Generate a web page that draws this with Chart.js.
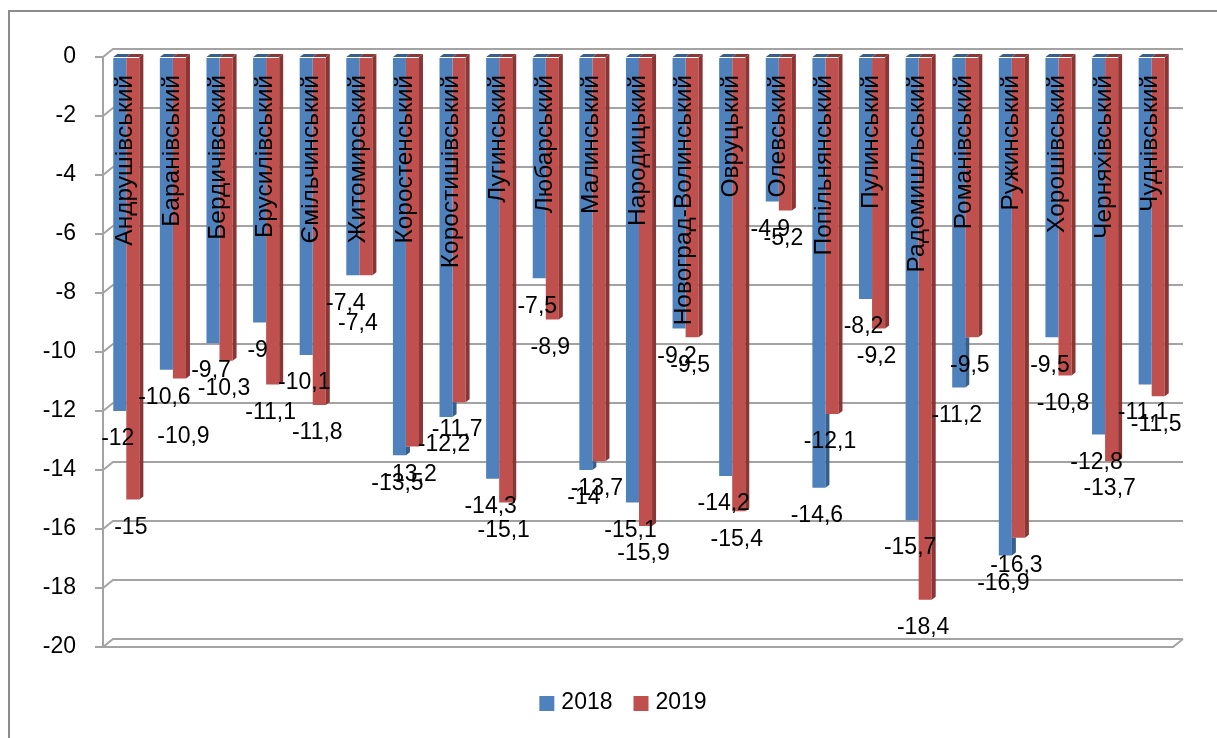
<!DOCTYPE html>
<html>
<head>
<meta charset="utf-8">
<script src="https://cdn.jsdelivr.net/npm/chart.js@4"></script>
<style>
  html, body { margin: 0; padding: 0; background: #fff; }
  #wrap { width: 1217px; height: 738px; }
</style>
</head>
<body>
<div id="wrap"><canvas id="rateChart" width="1217" height="738"></canvas></div>
<script>
const districts = [
  "Андрушівський", "Баранівський", "Бердичівський", "Брусилівський",
  "Ємільчинський", "Житомирський", "Коростенський", "Коростишівський",
  "Лугинський", "Любарський", "Малинський", "Народицький",
  "Новоград-Волинський", "Овруцький", "Олевський", "Попільнянський",
  "Пулинський", "Радомишльський", "Романівський", "Ружинський",
  "Хорошівський", "Черняхівський", "Чуднівський"
];
const values2018 = [-12, -10.6, -9.7, -9, -10.1, -7.4, -13.5, -12.2, -14.3, -7.5, -14, -15.1,
  -9.2, -14.2, -4.9, -14.6, -8.2, -15.7, -11.2, -16.9, -9.5, -12.8, -11.1];
const values2019 = [-15, -10.9, -10.3, -11.1, -11.8, -7.4, -13.2, -11.7, -15.1, -8.9, -13.7, -15.9,
  -9.5, -15.4, -5.2, -12.1, -9.2, -18.4, -9.5, -16.3, -10.8, -13.7, -11.5];
const seriesNames = ["2018", "2019"];
const yTicks = { min: -20, max: 0, step: 2 };

// a couple of labels were dragged by hand in the original: "dataset:index" -> [dx, dy]
const labelNudge = { "1:1": [6, 30], "0:5": [-5, 0], "1:5": [-6, 20] };

const FONT = "'Liberation Sans', Arial, sans-serif";
const COLORS = ["#4F81BD", "#C0504D"];
const SIDE = ["#375E8C", "#8A3634"];
const GRID = "#A3A3A3";

// 3d-ish walls, grid, bar sides, labels, legend
const excelLook = {
  id: "excelLook",
  beforeDraw(chart) {
    const ctx = chart.ctx;
    ctx.save();
    ctx.strokeStyle = "#8c8c8c";
    ctx.lineWidth = 2;
    ctx.strokeRect(9, 11, 1300, 800);
    ctx.restore();
  },
  beforeDatasetsDraw(chart) {
    const { ctx, chartArea: a, scales: { y } } = chart;
    ctx.save();
    ctx.strokeStyle = GRID;
    ctx.lineWidth = 2;
    for (let v = yTicks.min; v <= yTicks.max; v += yTicks.step) {
      const py = y.getPixelForValue(v);
      ctx.beginPath();
      ctx.moveTo(a.left, py);
      ctx.lineTo(a.left + 10, py - 8);
      ctx.lineTo(a.right + 8, py - 8);
      ctx.stroke();
    }
    // floor front edge
    const fy = y.getPixelForValue(yTicks.min);
    ctx.beginPath();
    ctx.moveTo(a.left, fy);
    ctx.lineTo(a.right - 2, fy);
    ctx.lineTo(a.right + 8, fy - 8);
    ctx.stroke();
    ctx.restore();
  },
  afterDatasetsDraw(chart) {
    const { ctx, scales: { x, y } } = chart;
    const blue = chart.getDatasetMeta(0).data;
    const red = chart.getDatasetMeta(1).data;
    const base = y.getPixelForValue(0);
    ctx.save();
    blue.forEach((b, i) => {
      const r = red[i];
      const bR = b.x + b.width / 2;
      const rR = r.x + r.width / 2;
      // top faces
      ctx.fillStyle = SIDE[0];
      ctx.beginPath();
      ctx.moveTo(b.x - b.width / 2, base);
      ctx.lineTo(b.x - b.width / 2 + 4, base - 3);
      ctx.lineTo(bR + 4, base - 3);
      ctx.lineTo(bR, base);
      ctx.fill();
      // blue side, only where it shows below the red bar
      if (b.y > r.y) {
        ctx.beginPath();
        ctx.moveTo(bR, r.y);
        ctx.lineTo(bR + 4, r.y);
        ctx.lineTo(bR + 4, b.y - 3);
        ctx.lineTo(bR, b.y);
        ctx.fill();
      }
      ctx.fillStyle = SIDE[1];
      ctx.beginPath();
      ctx.moveTo(r.x - r.width / 2, base);
      ctx.lineTo(r.x - r.width / 2 + 4, base - 3);
      ctx.lineTo(rR + 4, base - 3);
      ctx.lineTo(rR, base);
      ctx.fill();
      ctx.beginPath();
      ctx.moveTo(rR, base);
      ctx.lineTo(rR + 4, base - 3);
      ctx.lineTo(rR + 4, r.y - 3);
      ctx.lineTo(rR, r.y);
      ctx.fill();
    });

    // category names inside the bars
    ctx.fillStyle = "#000";
    ctx.font = "24.5px " + FONT;
    ctx.textAlign = "right";
    ctx.textBaseline = "middle";
    districts.forEach((name, i) => {
      ctx.save();
      ctx.translate(x.getPixelForValue(i) - 1, 75);
      ctx.rotate(-Math.PI / 2);
      ctx.fillText(name, 0, 0);
      ctx.restore();
    });

    // value labels
    ctx.font = "23px " + FONT;
    ctx.textAlign = "center";
    [blue, red].forEach((bars, d) => {
      const vals = chart.data.datasets[d].data;
      bars.forEach((bar, i) => {
        const txt = String(vals[i]).replace(".", ",");
        const [dx, dy] = labelNudge[d + ":" + i] || [0, 0];
        ctx.fillText(txt, bar.x - 2 + dx, bar.y + 28 + dy);
      });
    });

    // legend
    ctx.textAlign = "left";
    const names = chart.data.datasets.map(ds => ds.label);
    const widths = names.map(n => ctx.measureText(n).width);
    const total = widths.reduce((s, w) => s + 15 + 7 + w, 0) + 21 * (names.length - 1);
    let lx = 623 - total / 2;
    names.forEach((n, k) => {
      ctx.fillStyle = COLORS[k];
      ctx.fillRect(lx, 696, 15, 15);
      ctx.fillStyle = "#000";
      ctx.fillText(n, lx + 22, 703);
      lx += 22 + widths[k] + 21;
    });
    ctx.restore();
  }
};

new Chart(document.getElementById("rateChart"), {
  type: "bar",
  data: {
    labels: districts,
    datasets: [
      { label: seriesNames[0], data: values2018, backgroundColor: COLORS[0] },
      { label: seriesNames[1], data: values2019, backgroundColor: COLORS[1] }
    ]
  },
  options: {
    responsive: false,
    devicePixelRatio: 1,
    animation: false,
    categoryPercentage: 0.56,
    barPercentage: 1,
    layout: { padding: { top: 57, right: 42, bottom: 13, left: 0 } },
    plugins: {
      tooltip: { enabled: false },
      legend: { display: false }
    },
    scales: {
      x: {
        grid: { display: false },
        border: { display: false },
        ticks: { display: false },
        afterFit: s => { s.height = 78; }
      },
      y: {
        min: yTicks.min,
        max: yTicks.max,
        ticks: {
          stepSize: yTicks.step,
          color: "#000",
          padding: 19,
          font: { family: FONT, size: 23 }
        },
        grid: { drawOnChartArea: false, color: GRID, lineWidth: 2, tickLength: 8 },
        border: { color: GRID, width: 2 },
        afterFit: s => { s.width = 103; }
      }
    }
  },
  plugins: [excelLook]
});
</script>
</body>
</html>
